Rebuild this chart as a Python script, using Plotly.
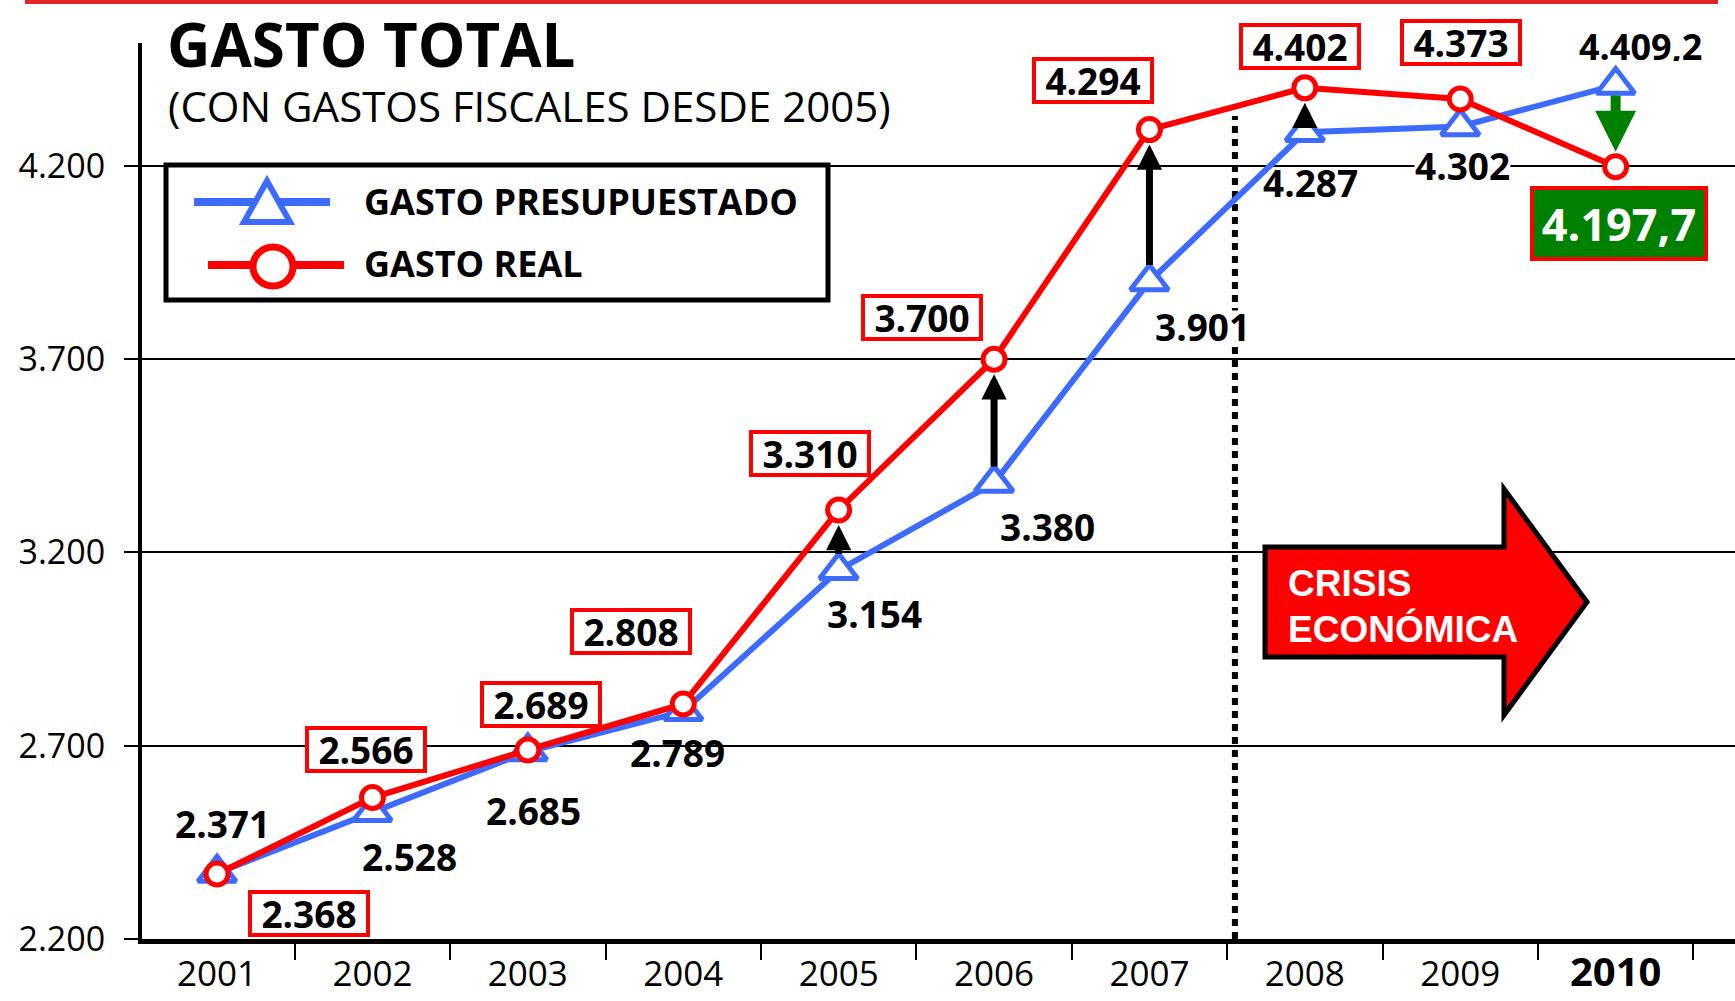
import plotly.graph_objects as go

# ---------------- data ----------------
years = ["2001", "2002", "2003", "2004", "2005", "2006", "2007", "2008", "2009", "2010"]
presupuestado = [2371, 2528, 2685, 2789, 3154, 3380, 3901, 4287, 4302, 4409.2]
real = [2368, 2566, 2689, 2808, 3310, 3700, 4294, 4402, 4373, 4197.7]
y_ticks = [2200, 2700, 3200, 3700, 4200]
arrow_years = ["2005", "2006", "2007", "2008", "2009", "2010"]
series_names = ["GASTO PRESUPUESTADO", "GASTO REAL"]
title_text = "GASTO TOTAL"
subtitle_text = "(CON GASTOS FISCALES DESDE 2005)"
crisis_lines = ["CRISIS", "ECONÓMICA"]

# ---------------- styling / layout (pixels) ----------------
W, H = 1735, 1001
L, R, T, B = 142, 1735, 43, 939
Y_RANGE = [2200, 4518]
BLUE = "#3D6BFF"
RED = "#FF0000"
GREEN = "#008000"
FONT = "Open Sans"
PX_PER_UNIT = (B - T) / (Y_RANGE[1] - Y_RANGE[0])

# label offsets (pixel shifts relative to the point)
blue_off = [(5, -50), (37, 44), (6, 58), (-6, 41), (36, 43), (53, 43), (53, 44), (6, 50), (2, 39), (25, -39)]
red_off = [(92, 39), (-6, -48), (13, -45), (-52, -72), (-29, -56), (-72, -42), (-56, -49), (-5, -41), (1, -57), (3, 57)]


def fmt(v):
    if float(v).is_integer():
        return f"{int(v):,}".replace(",", ".")
    s = f"{v:,.1f}"
    return s.replace(",", "X").replace(".", ",").replace("X", ".")


def px(x):
    return (x - L) / (R - L)


def py(y):
    return (B - y) / (B - T)


fig = go.Figure()

fig.add_trace(go.Scatter(
    x=years, y=presupuestado, name=series_names[0], mode="lines+markers",
    line=dict(color=BLUE, width=6),
    marker=dict(symbol="triangle-up", size=33, color="white", line=dict(color=BLUE, width=5)),
    showlegend=False, cliponaxis=False,
))
fig.add_trace(go.Scatter(
    x=years, y=real, name=series_names[1], mode="lines+markers",
    line=dict(color=RED, width=6),
    marker=dict(symbol="circle", size=22, color="white", line=dict(color=RED, width=5)),
    showlegend=False, cliponaxis=False,
))

ann = []
shapes = []

# value labels
for i, (yr, b, r) in enumerate(zip(years, presupuestado, real)):
    dx, dy = blue_off[i]
    ann.append(dict(x=i, y=b, xref="x", yref="y", text=f"<b>{fmt(b)}</b>", showarrow=False,
                    xshift=dx, yshift=-dy, xanchor="center", yanchor="middle",
                    font=dict(family=FONT, size=37 if i < 9 else 36, color="black"),
                    bgcolor="white" if i in (6, 8) else "rgba(0,0,0,0)", borderpad=0,
                    height=30))
    dx, dy = red_off[i]
    if r < b and i == len(years) - 1:
        ann.append(dict(x=i, y=r, xref="x", yref="y", text=f"<b>{fmt(r)}</b>", showarrow=False,
                        xshift=dx, yshift=-dy, xanchor="center", yanchor="middle",
                        font=dict(family=FONT, size=45, color="white"),
                        bgcolor=GREEN, bordercolor=RED, borderwidth=4, borderpad=0,
                        width=170, height=67))
    else:
        ann.append(dict(x=i, y=r, xref="x", yref="y", text=f"<b>{fmt(r)}</b>", showarrow=False,
                        xshift=dx, yshift=-dy, xanchor="center", yanchor="middle",
                        font=dict(family=FONT, size=37, color="black"),
                        bgcolor="white", bordercolor=RED, borderwidth=4, borderpad=0,
                        width=114, height=39))

# difference arrows
for yr in arrow_years:
    i = years.index(yr)
    up = real[i] > presupuestado[i]
    gap = abs(real[i] - presupuestado[i]) * PX_PER_UNIT
    if up:
        so, sso = min(15, gap * 0.5), min(15, gap * 0.4)
    else:
        so, sso = 15, 9
    ann.append(dict(
        x=i, y=real[i], ax=i, ay=presupuestado[i], xref="x", yref="y", axref="x", ayref="y",
        text="", showarrow=True, arrowhead=2,
        arrowwidth=7 if up else 10, arrowsize=0.72 if up else 0.82,
        arrowcolor="black" if up else GREEN,
        standoff=so, startstandoff=sso,
    ))

# title
ann.append(dict(x=px(165), y=py(44), xref="paper", yref="paper", text=f"<b>{title_text}</b>",
                showarrow=False, xanchor="left", yanchor="middle",
                font=dict(family=FONT, size=60, color="black")))
ann.append(dict(x=px(166), y=py(105), xref="paper", yref="paper", text=subtitle_text,
                showarrow=False, xanchor="left", yanchor="middle",
                font=dict(family=FONT, size=42, color="black")))

# manual legend
shapes.append(dict(type="rect", xref="paper", yref="paper", x0=px(166), x1=px(828), y0=py(165), y1=py(300),
                   line=dict(color="black", width=5), fillcolor="white", layer="above"))
shapes.append(dict(type="line", xref="paper", yref="paper", x0=px(194), x1=px(330), y0=py(202), y1=py(202),
                   line=dict(color=BLUE, width=8), layer="above"))
tri = f"M{px(267)},{py(181)} L{px(290)},{py(222)} L{px(244)},{py(222)} Z"
shapes.append(dict(type="path", xref="paper", yref="paper", path=tri,
                   line=dict(color=BLUE, width=6), fillcolor="white", layer="above"))
shapes.append(dict(type="line", xref="paper", yref="paper", x0=px(208), x1=px(344), y0=py(265), y1=py(265),
                   line=dict(color=RED, width=8), layer="above"))
shapes.append(dict(type="circle", xref="paper", yref="paper", x0=px(253), x1=px(293), y0=py(247), y1=py(286),
                   line=dict(color=RED, width=7), fillcolor="white", layer="above"))
for name, yc in zip(series_names, (201, 263)):
    ann.append(dict(x=px(362), y=py(yc), xref="paper", yref="paper", text=f"<b>{name}</b>",
                    showarrow=False, xanchor="left", yanchor="middle",
                    font=dict(family=FONT, size=36, color="black")))

# crisis divider (dotted) between 2007 and 2008
shapes.append(dict(type="line", xref="x", yref="paper", x0=6.55, x1=6.55, y0=0, y1=py(116),
                   line=dict(color="black", width=6, dash="7px,6px"), layer="below"))

# crisis arrow
arrow_path = (f"M{px(1265)},{py(547)} L{px(1504)},{py(547)} L{px(1504)},{py(489)} "
              f"L{px(1587)},{py(602)} L{px(1504)},{py(715)} L{px(1504)},{py(657)} "
              f"L{px(1265)},{py(657)} Z")
shapes.append(dict(type="path", xref="paper", yref="paper", path=arrow_path,
                   line=dict(color="black", width=5), fillcolor="#FF0000", layer="above"))
for txt, yc in zip(crisis_lines, (583, 629)):
    ann.append(dict(x=px(1286), y=py(yc), xref="paper", yref="paper", text=f"<b>{txt}</b>",
                    showarrow=False, xanchor="left", yanchor="middle",
                    font=dict(family="Liberation Sans", size=37, color="white")))

# top red frame line
shapes.append(dict(type="rect", xref="paper", yref="paper", x0=px(25), x1=px(1718), y0=py(4), y1=py(0),
                   line=dict(width=0), fillcolor="#E02424", layer="above"))

tick_text = [y if y != years[-1] else f"<span style='font-size:40px'><b>{y}</b></span>" for y in years]

fig.update_layout(
    width=W, height=H, autosize=False,
    margin=dict(l=L, r=W - R, t=T, b=H - B, pad=0),
    paper_bgcolor="white", plot_bgcolor="white",
    showlegend=False,
    annotations=ann, shapes=shapes,
    xaxis=dict(type="category", range=[-0.483, 9.768], tickmode="array", tickvals=years, ticktext=tick_text,
               tickson="boundaries", ticks="outside", ticklen=16, tickwidth=2, tickcolor="black",
               showline=True, linecolor="black", linewidth=5, showgrid=False, zeroline=False,
               tickfont=dict(family=FONT, size=35, color="black"), fixedrange=True),
    yaxis=dict(range=Y_RANGE, tickmode="array", tickvals=y_ticks, ticktext=[fmt(v) for v in y_ticks],
               ticks="outside", ticklen=14, tickwidth=2, tickcolor="black",
               showline=True, linecolor="black", linewidth=4,
               showgrid=True, gridcolor="black", gridwidth=2, zeroline=False,
               tickfont=dict(family=FONT, size=34, color="black"), ticklabelstandoff=12, fixedrange=True),
)

fig.write_html("out.html", config={"displayModeBar": False},
               post_script="document.body.style.margin='0';document.body.style.overflow='hidden';")
